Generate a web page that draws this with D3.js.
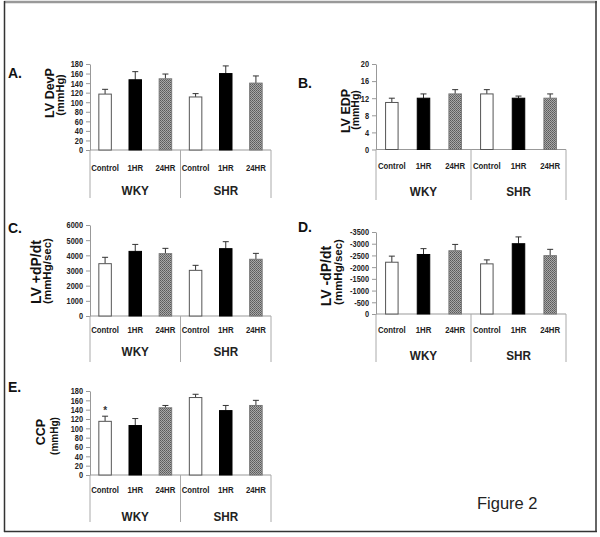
<!DOCTYPE html>
<html><head><meta charset="utf-8">
<script src="https://cdn.jsdelivr.net/npm/d3@7/dist/d3.min.js"></script>
<style>body{margin:0;background:#fff}svg{display:block}text{font-family:"Liberation Sans",Arial,sans-serif}</style>
</head><body>
<script>
const categories = ["Control","1HR","24HR"];
const groups = ["WKY","SHR"];
const devpMean = [117,147,149,111,160,140];
const devpErr  = [10,17,10,7,16,15];
const edpMean  = [11,12,13,13,12,12];
const edpErr   = [1,1,1,1,0.5,1];
const posMean  = [3450,4260,4110,3010,4440,3740];
const posErr   = [420,460,350,330,460,390];
const negMean  = [-2210,-2540,-2700,-2140,-3000,-2490];
const negErr   = [-260,-250,-270,-170,-290,-270];
const ccpMean  = [115,106,144,166,138,149];
const ccpErr   = [11,15,5,7,11,11];
const ticksA = [0,20,40,60,80,100,120,140,160,180];
const ticksB = [0,4,8,12,16,20];
const ticksC = [0,1000,2000,3000,4000,5000,6000];
const ticksD = [0,-500,-1000,-1500,-2000,-2500,-3000,-3500];

const W=600,H=537;
const svg=d3.select("body").append("svg").attr("width",W).attr("height",H);
const defs=svg.append("defs");
const pat=defs.append("pattern").attr("id","hatch").attr("patternUnits","userSpaceOnUse").attr("width",2).attr("height",2);
pat.append("rect").attr("width",2).attr("height",2).attr("fill","#a8a8a8");
pat.append("rect").attr("width",1).attr("height",1).attr("fill","#5a5a5a");
pat.append("rect").attr("x",1).attr("y",1).attr("width",1).attr("height",1).attr("fill","#6a6a6a");

function condense(sel,f){
  sel.each(function(){const L=this.getComputedTextLength();
    d3.select(this).attr("textLength",L*f).attr("lengthAdjust","spacingAndGlyphs");});
}

svg.append("line").attr("x1",4).attr("x2",597).attr("y1",2).attr("y2",2).attr("stroke","#999").attr("stroke-width",2.5);
svg.append("line").attr("x1",4.5).attr("x2",4.5).attr("y1",1).attr("y2",532).attr("stroke","#333").attr("stroke-width",1.5);
svg.append("line").attr("x1",596).attr("x2",596).attr("y1",1).attr("y2",532).attr("stroke","#333").attr("stroke-width",1.5);
svg.append("line").attr("x1",4).attr("x2",597).attr("y1",531.5).attr("y2",531.5).attr("stroke","#333").attr("stroke-width",1.5);

const fills=["#fff","#000","url(#hatch)"];
const strokes=["#555","#000","#777"];

function panel(o){
  const keys=[];
  groups.forEach(g=>categories.forEach(c=>keys.push(g+"|"+c)));
  const x=d3.scaleBand().domain(keys).range([o.x0,o.x1]);
  const y=d3.scaleLinear().domain([o.ticks[0],o.ticks[o.ticks.length-1]]).range([o.yb,o.yt]);
  const g=svg.append("g");
  const ax=g.append("g").attr("transform",`translate(${o.x0},0)`)
    .call(d3.axisLeft(y).tickValues(o.ticks).tickFormat(d=>String(d)).tickSize(4).tickSizeOuter(0).tickPadding(3));
  ax.select(".domain").attr("stroke","#999");
  ax.selectAll(".tick line").attr("stroke","#999");
  ax.selectAll(".tick text").attr("font-size",9).attr("font-weight","bold").attr("fill","#222")
    .attr("font-family","'Liberation Sans',Arial,sans-serif").call(condense,0.82);
  g.append("line").attr("x1",o.x0).attr("x2",o.x1).attr("y1",o.yb).attr("y2",o.yb).attr("stroke","#999");
  const div=[o.x0,x(groups[1]+"|"+categories[0]),o.x1];
  div.forEach(d=>g.append("line").attr("x1",d).attr("x2",d).attr("y1",o.yb).attr("y2",o.lineEnd).attr("stroke","#aaa"));
  const bw=12.5;
  o.mean.forEach((v,i)=>{
    const k=keys[i], ci=i%3;
    const cx=x(k)+x.bandwidth()/2;
    const top=y(v), e=y(v+o.err[i]);
    g.append("line").attr("x1",cx).attr("x2",cx).attr("y1",top).attr("y2",e).attr("stroke","#333");
    g.append("line").attr("x1",cx-3).attr("x2",cx+3).attr("y1",e).attr("y2",e).attr("stroke","#333");
    g.append("rect").attr("x",cx-bw/2).attr("y",top).attr("width",bw).attr("height",o.yb-top)
      .attr("fill",fills[ci]).attr("stroke",strokes[ci]).attr("stroke-width",1);
    g.append("text").attr("x",cx).attr("y",o.catY).attr("text-anchor","middle")
      .attr("font-size",9.5).attr("font-weight","bold").attr("fill","#222").text(categories[ci]).call(condense,0.82);
  });
  groups.forEach((gr,gi)=>{
    const cx=(div[gi]+div[gi+1])/2;
    g.append("text").attr("x",cx).attr("y",o.grpY).attr("text-anchor","middle")
      .attr("font-size",13).attr("font-weight","bold").attr("fill","#222").text(gr).call(condense,0.9);
  });
  g.append("text").attr("x",o.lx).attr("y",o.ly).attr("font-size",14).attr("font-weight","bold").attr("fill","#111").text(o.label);
  g.append("text").attr("transform",`translate(${o.t1x},${o.t1y}) rotate(-90)`).attr("text-anchor","middle")
    .attr("font-size",o.t1s).attr("font-weight","bold").attr("fill","#111").text(o.t1);
  g.append("text").attr("transform",`translate(${o.t2x},${o.t2y}) rotate(-90)`).attr("text-anchor","middle")
    .attr("font-size",o.t2s).attr("font-weight","bold").attr("fill","#111").text(o.t2);
  return {x,y,keys};
}

panel({x0:90,x1:271,yt:64,yb:150,ticks:ticksA,mean:devpMean,err:devpErr,catY:171,grpY:195,lineEnd:198,
  label:"A.",lx:8,ly:78,t1:"LV DevP",t1s:12.5,t1x:54,t1y:93,t2:"(mmHg)",t2s:11,t2x:64,t2y:95});
panel({x0:376,x1:566,yt:64,yb:149.5,ticks:ticksB,mean:edpMean,err:edpErr,catY:169,grpY:196,lineEnd:200,
  label:"B.",lx:298,ly:88,t1:"LV EDP",t1s:12.5,t1x:350,t1y:111,t2:"(mmHg)",t2s:10.5,t2x:359,t2y:110});
panel({x0:90,x1:271,yt:225,yb:316,ticks:ticksC,mean:posMean,err:posErr,catY:333,grpY:356,lineEnd:362,
  label:"C.",lx:8,ly:233,t1:"LV +dP/dt",t1s:14,t1x:41,t1y:272,t2:"(mmHg/sec)",t2s:11.5,t2x:51,t2y:271});
panel({x0:376,x1:566,yt:232,yb:314,ticks:ticksD,mean:negMean,err:negErr,catY:333,grpY:360,lineEnd:362,
  label:"D.",lx:298,ly:232,t1:"LV -dP/dt",t1s:14,t1x:331,t1y:276,t2:"(mmHg/sec)",t2s:11.5,t2x:342,t2y:272});
const pE=panel({x0:90,x1:271,yt:391,yb:475,ticks:ticksA,mean:ccpMean,err:ccpErr,catY:493,grpY:521,lineEnd:522,
  label:"E.",lx:8,ly:392,t1:"CCP",t1s:12.5,t1x:45,t1y:432,t2:"(mmHg)",t2s:10,t2x:58,t2y:436});
svg.append("text").attr("x",pE.x(pE.keys[0])+pE.x.bandwidth()/2).attr("y",pE.y(ccpMean[0]+ccpErr[0])-2)
  .attr("text-anchor","middle").attr("font-size",10).attr("font-weight","bold").attr("fill","#333").text("*");

svg.append("text").attr("x",477).attr("y",509).attr("font-size",16.5).attr("fill","#222")
  .attr("font-family","'Open Sans','Noto Sans',sans-serif").text("Figure 2");
</script>
</body></html>
